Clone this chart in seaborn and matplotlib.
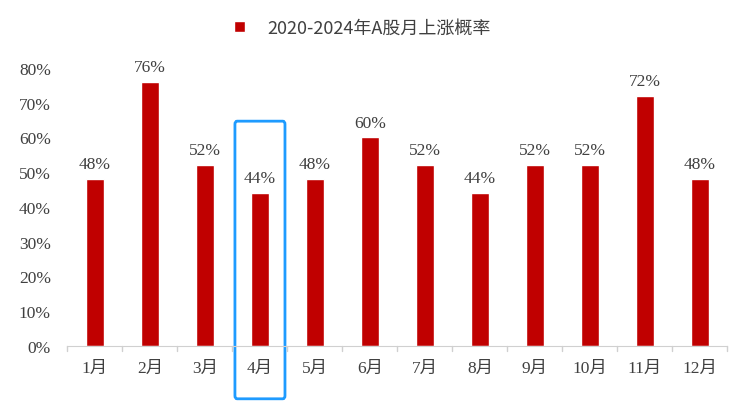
import matplotlib
matplotlib.use('Agg')
import matplotlib.pyplot as plt
from matplotlib.patches import FancyBboxPatch
import pandas as pd
import seaborn as sns

months = ["1月", "2月", "3月", "4月", "5月", "6月", "7月", "8月", "9月", "10月", "11月", "12月"]
up_rate = [48, 76, 52, 44, 48, 60, 52, 44, 52, 52, 72, 48]
series_name = "2020-2024年A股月上涨概率"

sns.set_style("white")
plt.rcParams['font.family'] = ['Liberation Serif', 'Noto Sans CJK SC']

df = pd.DataFrame({"month": months, "rate": up_rate})
fig = plt.figure(figsize=(7.55, 4.1), dpi=100)
ax = fig.add_axes([0.0894, 0.1537, 0.874, 0.678])
sns.barplot(data=df, x="month", y="rate", color="#C00000", width=0.33,
            saturation=1, ax=ax, label=series_name)

for i, v in enumerate(up_rate):
    ax.text(i, v + 2, f"{v}%", ha="center", va="bottom", fontsize=12.5, color="#404040")

ax.set_xlim(-0.5, 11.5)
ax.set_ylim(0, 80)
ax.set_yticks(range(0, 81, 10))
ax.set_yticklabels([f"{t}%" for t in range(0, 81, 10)], fontsize=12.5, color="#404040")
ax.tick_params(axis="x", labelsize=12.5, labelcolor="#404040", pad=10, length=0)
ax.tick_params(axis="y", length=0, pad=12)
ax.set_xlabel("")
ax.set_ylabel("")
for s in ["left", "right", "top"]:
    ax.spines[s].set_visible(False)
ax.spines["bottom"].set_color("#d0d0d0")
for b in [x - 0.5 for x in range(13)]:
    ax.plot([b, b], [0, -1.5], color="#d0d0d0", lw=1, clip_on=False)

box = FancyBboxPatch((2.545, -15.2), 0.91, 79.9, boxstyle="round,pad=0,rounding_size=0.04",
                     fill=False, edgecolor="#1E9BFF", lw=2, clip_on=False,
                     mutation_aspect=80 / 0.9 / 4)
ax.add_patch(box)

if ax.get_legend() is not None:
    ax.get_legend().remove()
handles, labels = ax.get_legend_handles_labels()
leg = fig.legend(handles, labels, loc="center", bbox_to_anchor=(0.48, 0.93), frameon=False,
                 handlelength=0.6, handleheight=0.6, handletextpad=1.2,
                 prop={"family": ["Noto Sans CJK SC"], "size": 13})
for t in leg.get_texts():
    t.set_color("#404040")

fig.savefig("out.png", dpi=100)
